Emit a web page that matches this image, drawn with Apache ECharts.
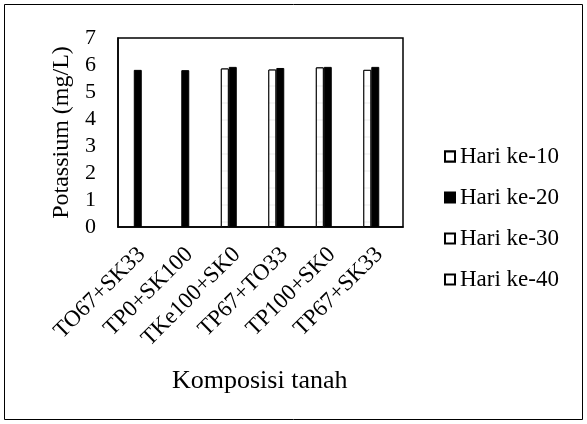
<!DOCTYPE html>
<html><head><meta charset="utf-8">
<script src="https://cdn.jsdelivr.net/npm/echarts@6/dist/echarts.min.js"></script>
<style>html,body{margin:0;padding:0;background:#fff}#c{width:587px;height:424px}</style>
</head><body><div id="c"></div>
<script>
const categories = ['TO67+SK33','TP0+SK100','TKe100+SK0','TP67+TO33','TP100+SK0','TP67+SK33'];
const hari10 = [null, null, 5.87, 5.83, 5.91, 5.82];
const hari20 = [5.82, 5.81, 5.93, 5.89, 5.93, 5.93];
const hari30 = [null, null, null, null, null, null];
const hari40 = [null, null, null, null, null, null];
const yTicks = [0,1,2,3,4,5,6,7];

const font = '"Liberation Serif", "Times New Roman", serif';
const chart = echarts.init(document.getElementById('c'), null, {renderer:'canvas'});
chart.setOption({
  animation: false,
  backgroundColor: '#fff',
  textStyle: {fontFamily: font, color: '#000'},
  graphic: [
    {type:'rect', shape:{x:4.5,y:4.5,width:578,height:415}, style:{fill:'none', stroke:'#000', lineWidth:1}},
    {type:'text', left:172, top:368, style:{text:'Komposisi tanah', font:'26px "Liberation Serif"', fill:'#000'}}
  ],
  grid: {left:118, top:38, width:285, height:189, show:true, borderColor:'#000', borderWidth:1.5, containLabel:false},
  legend: {
    orient:'vertical', left:439, top:140, itemGap:18, itemWidth:10, itemHeight:10, icon:'rect',
    textStyle:{fontFamily:font, fontSize:23, color:'#000'},
    data:['Hari ke-10','Hari ke-20','Hari ke-30','Hari ke-40']
  },
  xAxis: {
    type:'category', data:categories,
    axisLine:{show:true, lineStyle:{color:'#000', width:1.5}},
    axisTick:{show:false},
    axisLabel:{interval:0, rotate:45, fontFamily:font, fontSize:23, color:'#000', margin:24}
  },
  yAxis: {
    type:'value', min:0, max:7, interval:1,
    name:'Potassium (mg/L)', nameLocation:'middle', nameGap:44,
    nameTextStyle:{fontFamily:font, fontSize:24, color:'#000'},
    axisLine:{show:true, lineStyle:{color:'#000', width:1.5}},
    axisTick:{show:false}, splitLine:{show:false},
    axisLabel:{fontFamily:font, fontSize:22, color:'#000', margin:22,
      formatter: v => yTicks.includes(v) ? String(v) : ''}
  },
  series: [
    {name:'Hari ke-10', type:'bar', data:hari10, barGap:'0%', barCategoryGap:'33%',
     itemStyle:{color:'#fff', borderColor:'#000', borderWidth:1,
       decal:{symbol:'rect', symbolSize:0.15, dashArrayX:[1,0], dashArrayY:[2,15], color:'#000', backgroundColor:'#fff'}}},
    {name:'Hari ke-20', type:'bar', data:hari20, itemStyle:{color:'#000', borderColor:'#000', borderWidth:1}},
    {name:'Hari ke-30', type:'bar', data:hari30, itemStyle:{color:'#fff', borderColor:'#000', borderWidth:1.5}},
    {name:'Hari ke-40', type:'bar', data:hari40, itemStyle:{color:'#fff', borderColor:'#000', borderWidth:1.5}}
  ]
});
</script></body></html>
